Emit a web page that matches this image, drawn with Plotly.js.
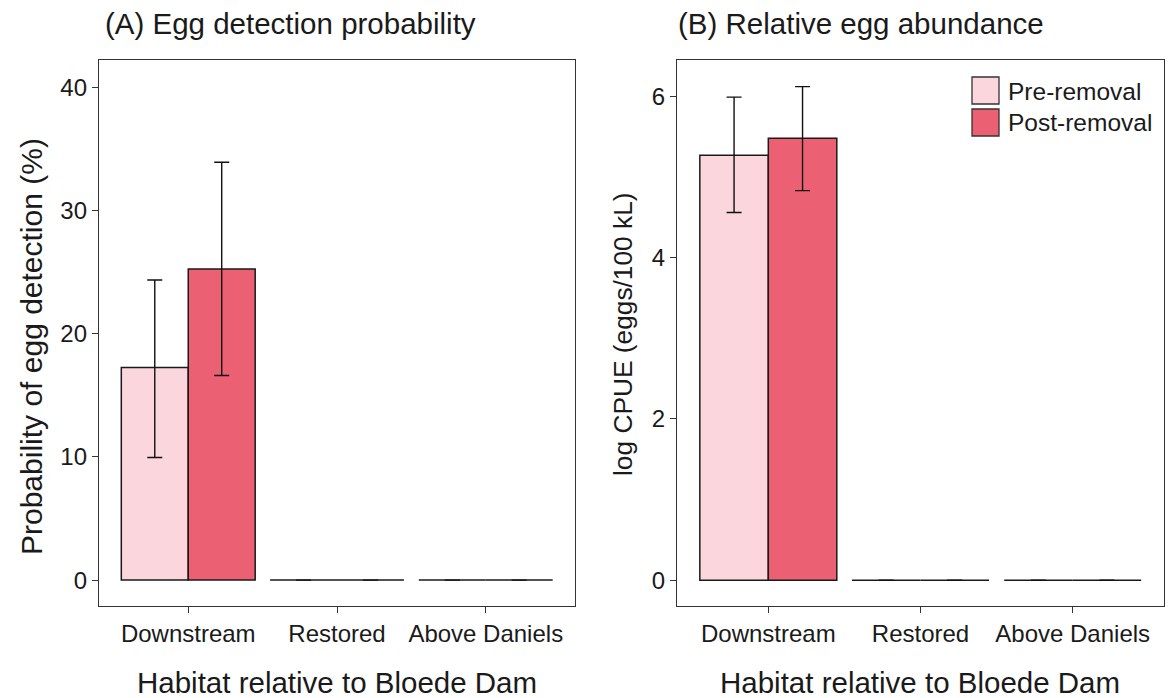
<!DOCTYPE html>
<html>
<head>
<meta charset="utf-8">
<script src="https://cdn.plot.ly/plotly-3.0.1.min.js"></script>
<style>html,body{margin:0;padding:0;background:#fff;}#chart{width:1170px;height:698px;}</style>
</head>
<body>
<div id="chart"></div>
<script>
// ---- data ----
const categories = ['Downstream', 'Restored', 'Above Daniels'];
const groupNames = ['Pre-removal', 'Post-removal'];

const detectPre = [17.25, 0, 0];
const detectPreLow = [9.95, null, null];
const detectPreHigh = [24.35, null, null];
const detectPost = [25.25, 0, 0];
const detectPostLow = [16.6, null, null];
const detectPostHigh = [33.9, null, null];

const cpuePre = [5.27, 0, 0];
const cpuePreLow = [4.56, null, null];
const cpuePreHigh = [5.99, null, null];
const cpuePost = [5.48, 0, 0];
const cpuePostLow = [4.83, null, null];
const cpuePostHigh = [6.12, null, null];

const yTicksA = [0, 10, 20, 30, 40];
const yTicksB = [0, 2, 4, 6];

// ---- styling ----
const W = 1170, H = 698;
const colPre = '#FBD6DC';
const colPost = '#EC6074';
const FONT = 'Liberation Sans, Arial, sans-serif';
const txt = '#1a1a1a';

function upper(v, hi) { return v.map((d, i) => hi[i] == null ? null : hi[i] - d); }
function lower(v, lo) { return v.map((d, i) => lo[i] == null ? null : d - lo[i]); }

function barTrace(vals, lo, hi, color, name, xa, ya) {
  return {
    type: 'bar', x: categories, y: vals, name: name,
    xaxis: xa, yaxis: ya, showlegend: false,
    marker: { color: color, line: { color: '#1a1a1a', width: 1.5 } },
    error_y: { type: 'data', symmetric: false, array: upper(vals, hi), arrayminus: lower(vals, lo),
      color: '#111', thickness: 1.4, width: 7.5 },
    hoverinfo: 'x+y'
  };
}

const data = [
  barTrace(detectPre, detectPreLow, detectPreHigh, colPre, groupNames[0], 'x', 'y'),
  barTrace(detectPost, detectPostLow, detectPostHigh, colPost, groupNames[1], 'x', 'y'),
  barTrace(cpuePre, cpuePreLow, cpuePreHigh, colPre, groupNames[0], 'x2', 'y2'),
  barTrace(cpuePost, cpuePostLow, cpuePostHigh, colPost, groupNames[1], 'x2', 'y2')
];

const px = v => v / W;
const py = v => 1 - v / H;

const axisCommon = {
  showline: true, mirror: true, linecolor: '#333', linewidth: 1.3,
  ticks: 'outside', ticklen: 6, tickwidth: 1.2, tickcolor: '#333',
  showgrid: false, zeroline: false, fixedrange: true,
  tickfont: { family: FONT, size: 24, color: txt }
};

const layout = {
  width: W, height: H,
  margin: { l: 0, r: 0, t: 0, b: 0 },
  paper_bgcolor: '#fff', plot_bgcolor: '#fff',
  barmode: 'group', bargap: 0.1, bargroupgap: 0,
  showlegend: false,
  xaxis: Object.assign({}, axisCommon, { domain: [px(99), px(575)], anchor: 'y', type: 'category', range: [-0.6, 2.6] }),
  yaxis: Object.assign({}, axisCommon, { domain: [py(606), py(60)], anchor: 'x', range: [-2.1, 42.2], tickvals: yTicksA }),
  xaxis2: Object.assign({}, axisCommon, { domain: [px(677), px(1164)], anchor: 'y2', type: 'category', range: [-0.6, 2.6] }),
  yaxis2: Object.assign({}, axisCommon, { domain: [py(606), py(60)], anchor: 'x2', range: [-0.32, 6.45], tickvals: yTicksB }),
  annotations: [
    { text: '(A) Egg detection probability', xref: 'paper', yref: 'paper', x: px(103), y: py(23), xanchor: 'left', yanchor: 'middle', showarrow: false, font: { family: FONT, size: 29.5, color: txt } },
    { text: '(B) Relative egg abundance', xref: 'paper', yref: 'paper', x: px(676), y: py(23), xanchor: 'left', yanchor: 'middle', showarrow: false, font: { family: FONT, size: 29.5, color: txt } },
    { text: 'Habitat relative to Bloede Dam', xref: 'paper', yref: 'paper', x: px(337), y: py(682), xanchor: 'center', yanchor: 'middle', showarrow: false, font: { family: FONT, size: 29.5, color: txt } },
    { text: 'Habitat relative to Bloede Dam', xref: 'paper', yref: 'paper', x: px(920), y: py(682), xanchor: 'center', yanchor: 'middle', showarrow: false, font: { family: FONT, size: 29.5, color: txt } },
    { text: 'Probability of egg detection (%)', xref: 'paper', yref: 'paper', x: px(31), y: py(347), xanchor: 'center', yanchor: 'middle', textangle: -90, showarrow: false, font: { family: FONT, size: 30, color: txt } },
    { text: 'log CPUE (eggs/100 kL)', xref: 'paper', yref: 'paper', x: px(623), y: py(334), xanchor: 'center', yanchor: 'middle', textangle: -90, showarrow: false, font: { family: FONT, size: 26.3, color: txt } },
    { text: groupNames[0], xref: 'paper', yref: 'paper', x: px(1006), y: py(92), xanchor: 'left', yanchor: 'middle', showarrow: false, font: { family: FONT, size: 24.5, color: txt } },
    { text: groupNames[1], xref: 'paper', yref: 'paper', x: px(1006), y: py(123), xanchor: 'left', yanchor: 'middle', showarrow: false, font: { family: FONT, size: 24.5, color: txt } }
  ],
  shapes: [
    { type: 'rect', xref: 'paper', yref: 'paper', x0: px(972), x1: px(999), y0: py(104), y1: py(77), fillcolor: colPre, line: { color: '#333', width: 1.3 } },
    { type: 'rect', xref: 'paper', yref: 'paper', x0: px(972), x1: px(999), y0: py(136), y1: py(109), fillcolor: colPost, line: { color: '#333', width: 1.3 } }
  ]
};

Plotly.newPlot('chart', data, layout, { displayModeBar: false });
</script>
</body>
</html>
